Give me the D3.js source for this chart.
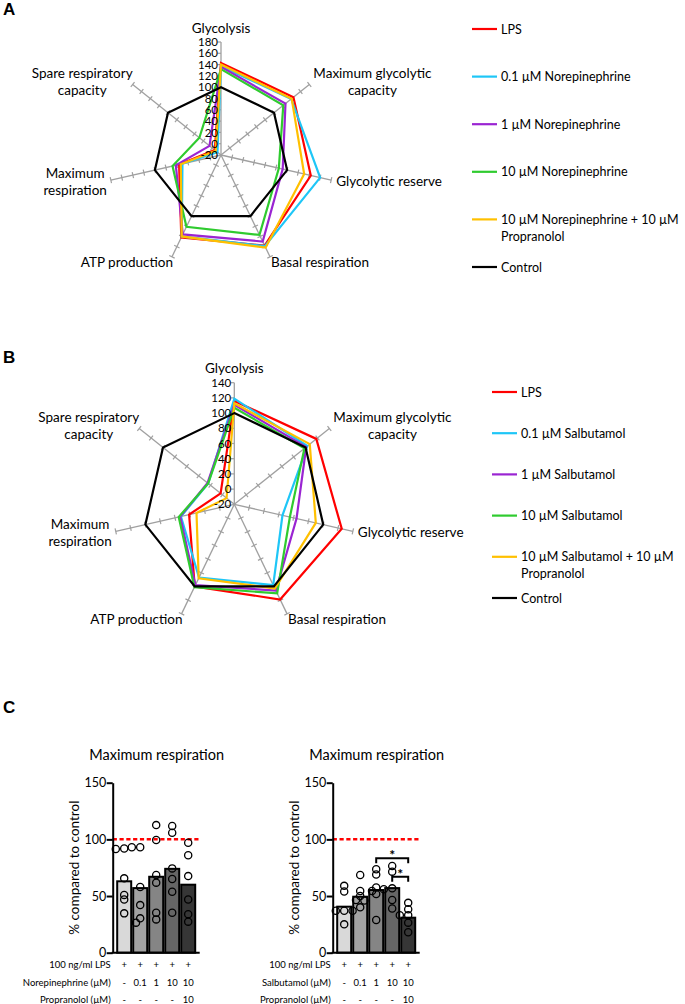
<!DOCTYPE html>
<html>
<head>
<meta charset="utf-8">
<script src="https://cdn.jsdelivr.net/npm/d3@7"></script>
<style>
  body { margin: 0; background: #fff; }
  svg { display: block; font-family: Lato, "Open Sans", sans-serif; }
</style>
</head>
<body>
<svg id="chart" width="685" height="1004"></svg>
<script>
// radar axes (clockwise from top)
const axisNames = [
    ["Glycolysis"],
    ["Maximum glycolytic", "capacity"],
    ["Glycolytic reserve"],
    ["Basal respiration"],
    ["ATP production"],
    ["Maximum", "respiration"],
    ["Spare respiratory", "capacity"]
];
const seriesColors = ["#ff0000", "#1ec6f7", "#9a24d2", "#2fcb2f", "#ffc000", "#000000"];

// panel A - norepinephrine
const legendA = ["LPS", "0.1 µM Norepinephrine", "1 µM Norepinephrine", "10 µM Norepinephrine",
    "10 µM Norepinephrine + 10 µM|Propranolol", "Control"];
const lpsA      = [143, 144, 143, 158, 142, 56, -6];
const ne01A     = [137, 139, 160, 159, 140, 50, -12];
const ne1A      = [136, 126, 92, 150, 136, 62, 6];
const ne10A     = [132, 121, 85, 137, 121, 68, 29];
const ne10PropA = [140, 140, 131, 162, 140, 53, -8];
const controlA  = [100, 100, 100, 100, 100, 100, 100];

// panel B - salbutamol
const legendB = ["LPS", "0.1 µM Salbutamol", "1 µM Salbutamol", "10 µM Salbutamol",
    "10 µM Salbutamol + 10 µM|Propranolol", "Control"];
const lpsB      = [116, 118, 125, 119, 100, 41, 3];
const sal01B    = [119, 103, 45, 98, 87, 52, 24];
const sal1B     = [111, 101, 64, 106, 98, 53, 25];
const sal10B    = [107, 98, 55, 110, 101, 55, 24];
const sal10PropB = [113, 107, 90, 103, 88, 31, -7];
const controlB  = [100, 100, 100, 100, 100, 100, 100];

// panel C - maximum respiration bars
const barGroups = ["LPS", "0.1", "1", "10", "10+P"];
const barColors = ["#d9d9d9", "#a3a3a3", "#858585", "#666666", "#363636"];
const neMeans = [63, 57, 67, 74, 60];
const neDots = [
    [92, 91.5, 65.6, 51, 47, 34.7],
    [93, 93, 58, 42, 26.5, 30.3],
    [112.6, 99.4, 68.5, 61.8, 35.3, 29.4],
    [105.9, 111.8, 74.4, 65, 53.8, 35.3],
    [97, 86, 67.6, 47, 27.4, 34]
];
const salMeans = [40.6, 49.4, 55.3, 57, 30.9];
const salDots = [
    [54, 59, 37, 37, 37, 25],
    [68.6, 54.5, 50, 46.5, 46, 40],
    [69, 73.6, 57.5, 54.5, 51.8, 28.8],
    [71.5, 76.5, 56.8, 56, 46.5, 39],
    [44, 38.3, 33, 33, 26.5, 18]
];
const salBrackets = [[2, 4, 83.3], [3, 4, 67]];
const yTicksC = [0, 50, 100, 150];
const rowsNE = [
    ["100 ng/ml LPS", ["+", "+", "+", "+", "+"]],
    ["Norepinephrine (µM)", ["-", "0.1", "1", "10", "10"]],
    ["Propranolol (µM)", ["-", "-", "-", "-", "10"]]
];
const rowsSal = [
    ["100 ng/ml LPS", ["+", "+", "+", "+", "+"]],
    ["Salbutamol (µM)", ["-", "0.1", "1", "10", "10"]],
    ["Propranolol (µM)", ["-", "-", "-", "-", "10"]]
];

const svg = d3.select("#chart");

// panel letters
[["A", 15], ["B", 363], ["C", 713]].forEach(d => {
    svg.append("text").attr("x", 3).attr("y", d[1])
        .attr("font-family", "Liberation Sans, Arial, sans-serif")
        .attr("font-weight", "bold").attr("font-size", 17).text(d[0]);
});

function drawRadar(cx, cy, R, maxV, series, legendItems, legendX, legendY0, legendStep) {
    const g = svg.append("g");
    const r = d3.scaleLinear().domain([-20, maxV]).range([0, R]);
    const n = axisNames.length;
    const ang = i => i * 2 * Math.PI / n;
    const pt = (i, v) => [cx + r(v) * Math.sin(ang(i)), cy - r(v) * Math.cos(ang(i))];
    const ticks = d3.range(-20, maxV + 1, 20);

    // axes with cross ticks
    axisNames.forEach((name, i) => {
        const end = pt(i, maxV);
        g.append("line").attr("x1", cx).attr("y1", cy).attr("x2", end[0]).attr("y2", end[1])
            .attr("stroke", "#a0a0a0").attr("stroke-width", 1.3);
        const a = ang(i);
        const px = Math.cos(a), py = Math.sin(a);
        ticks.slice(1).forEach(t => {
            const p = pt(i, t);
            if (i === 0) {
                g.append("line").attr("x1", p[0] - 3.5).attr("y1", p[1]).attr("x2", p[0]).attr("y2", p[1])
                    .attr("stroke", "#a0a0a0").attr("stroke-width", 1.2);
            } else {
                g.append("line").attr("x1", p[0] - px * 3).attr("y1", p[1] - py * 3)
                    .attr("x2", p[0] + px * 3).attr("y2", p[1] + py * 3)
                    .attr("stroke", "#a0a0a0").attr("stroke-width", 1.2);
            }
        });
    });

    // series polygons
    const line = d3.line().curve(d3.curveLinearClosed);
    series.forEach((vals, s) => {
        g.append("path")
            .attr("d", line(vals.map((v, i) => pt(i, v))))
            .attr("fill", "none").attr("stroke", seriesColors[s])
            .attr("stroke-width", 2.2).attr("stroke-linejoin", "miter");
    });

    // tick labels on the top axis
    ticks.forEach(t => {
        const p = pt(0, t);
        g.append("text").attr("x", p[0] - 3).attr("y", p[1]).attr("dy", "0.36em")
            .attr("text-anchor", "end").attr("font-size", 11.5).text(t);
    });

    // axis labels
    axisNames.forEach((lines, i) => {
        const end = pt(i, maxV);
        const t = g.append("text").attr("font-size", 13.5).attr("text-anchor", "middle");
        lines.forEach((l, k) => {
            t.append("tspan").attr("x", 0).attr("y", k * 17).text(l);
        });
        const bb = t.node().getBBox();
        let dx, dy;
        const midY = bb.y + bb.height / 2;
        if (i === 0) { dx = end[0]; dy = end[1] - 14.5 - midY; }
        else if (i === 1) { dx = end[0] + 4 - bb.x; dy = end[1] - 3 - midY; }
        else if (i === 2) { dx = end[0] + 5 - bb.x; dy = end[1] + 1 - midY; }
        else if (i === 3) { dx = end[0] + 1 - bb.x; dy = end[1] + 5 - midY; }
        else if (i === 4) { dx = end[0] + 1 - (bb.x + bb.width); dy = end[1] + 5 - midY; }
        else if (i === 5) { dx = end[0] - 4 - (bb.x + bb.width); dy = end[1] + 1.5 - midY; }
        else { dx = end[0] - (bb.x + bb.width); dy = end[1] - 3 - midY; }
        t.attr("transform", `translate(${dx},${dy})`);
    });

    // legend
    legendItems.forEach((label, k) => {
        const y = legendY0 + k * legendStep;
        g.append("line").attr("x1", legendX).attr("x2", legendX + 25).attr("y1", y).attr("y2", y)
            .attr("stroke", seriesColors[k]).attr("stroke-width", 2.2);
        const t = g.append("text").attr("font-size", 12.5);
        label.split("|").forEach((l, j) => {
            t.append("tspan").attr("x", legendX + 29).attr("y", y + j * 17).attr("dy", "0.36em").text(l);
        });
    });
}

drawRadar(221, 155, 113, 180, [lpsA, ne01A, ne1A, ne10A, ne10PropA, controlA], legendA, 472, 29, 47.6);
drawRadar(234.3, 504.3, 121.6, 140, [lpsB, sal01B, sal1B, sal10B, sal10PropB, controlB], legendB, 492, 392, 41.2);

function drawBars(x0, means, dots, rows, brackets) {
    const g = svg.append("g");
    const y = d3.scaleLinear().domain([0, 150]).range([952.7, 782.7]);
    const x = d3.scaleBand().domain(barGroups).range([x0 + 4.5, x0 + 82.5]).paddingInner(0.125);

    g.append("text").attr("x", x0 + 44).attr("y", 760).attr("text-anchor", "middle")
        .attr("font-size", 14.5).text("Maximum respiration");

    g.append("text").attr("transform", `translate(${x0 - 34},${y(75)}) rotate(-90)`)
        .attr("text-anchor", "middle").attr("font-size", 13.5).text("% compared to control");

    // bars
    g.selectAll("rect.bar").data(means).join("rect")
        .attr("x", (d, i) => x(barGroups[i])).attr("width", x.bandwidth())
        .attr("y", d => y(d)).attr("height", d => y(0) - y(d))
        .attr("fill", (d, i) => barColors[i]).attr("stroke", "#000").attr("stroke-width", 2);

    // control reference
    g.append("line").attr("x1", x0).attr("x2", x0 + 87).attr("y1", y(100)).attr("y2", y(100))
        .attr("stroke", "#ff0000").attr("stroke-width", 2.5).attr("stroke-dasharray", "4.2,2.6");

    // individual points, nudged sideways when they sit on top of each other
    const rad = 3.6;
    const offsets = [0, -4.2, 4.2, -8.4, 8.4];
    dots.forEach((vals, i) => {
        const cxm = x(barGroups[i]) + x.bandwidth() / 2;
        const placed = [];
        vals.map(v => y(v)).sort((a, b) => a - b).forEach(py => {
            const off = offsets.find(o => placed.every(p => Math.hypot(p.px - (cxm + o), p.py - py) >= 4.5));
            placed.push({ px: cxm + (off === undefined ? 0 : off), py });
        });
        g.selectAll(null).data(placed).join("circle")
            .attr("cx", d => d.px).attr("cy", d => d.py).attr("r", rad)
            .attr("fill", "none").attr("stroke", "#000").attr("stroke-width", 1.3);
    });

    // axes
    const ax = g.append("g").attr("transform", `translate(${x0},0)`)
        .call(d3.axisLeft(y).tickValues(yTicksC).tickSize(6).tickSizeOuter(0));
    ax.select(".domain").attr("stroke-width", 2);
    ax.selectAll(".tick line").attr("stroke-width", 2);
    ax.selectAll(".tick text").attr("font-size", 12.5).attr("font-family", "Lato, sans-serif").attr("x", -6.5);
    g.append("line").attr("x1", x0 - 1).attr("x2", x0 + 87).attr("y1", y(0)).attr("y2", y(0))
        .attr("stroke", "#000").attr("stroke-width", 2);

    // significance brackets
    (brackets || []).forEach(b => {
        const xa = x(barGroups[b[0]]) + x.bandwidth() / 2;
        const xb = x(barGroups[b[1]]) + x.bandwidth() / 2;
        const yy = y(b[2]);
        g.append("path").attr("d", `M${xa},${yy + 5}V${yy}H${xb}V${yy + 5}`)
            .attr("fill", "none").attr("stroke", "#000").attr("stroke-width", 2);
        g.append("text").attr("x", (xa + xb) / 2).attr("y", yy + 2).attr("text-anchor", "middle")
            .attr("font-size", 14).attr("font-weight", "bold").text("*");
    });

    // treatment table
    rows.forEach((row, k) => {
        const ty = 965 + k * 17.5;
        g.append("text").attr("x", x0 - 2).attr("y", ty).attr("dy", "0.36em")
            .attr("text-anchor", "end").attr("font-size", 9.5).text(row[0]);
        row[1].forEach((v, i) => {
            g.append("text").attr("x", x(barGroups[i]) + x.bandwidth() / 2).attr("y", ty).attr("dy", "0.36em")
                .attr("text-anchor", "middle").attr("font-size", 9.5).text(v);
        });
    });
}

drawBars(112.7, neMeans, neDots, rowsNE, null);
drawBars(332.7, salMeans, salDots, rowsSal, salBrackets);
</script>
</body>
</html>
